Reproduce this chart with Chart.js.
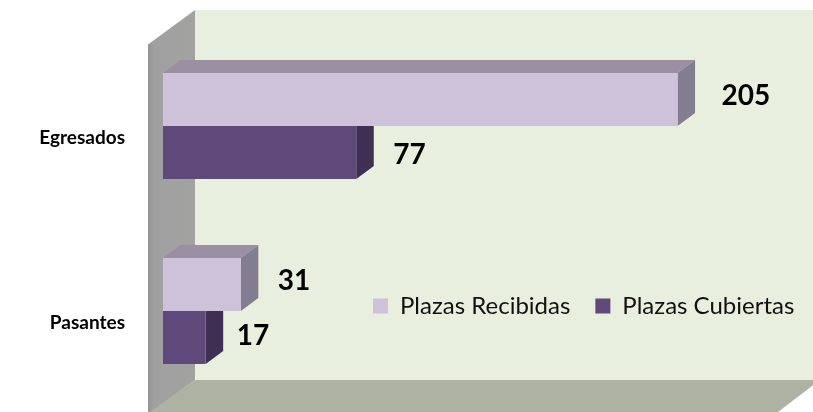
<!DOCTYPE html>
<html>
<head>
<meta charset="utf-8">
<style>html,body{margin:0;padding:0;background:#fff}canvas{display:block}</style>
<script src="https://cdn.jsdelivr.net/npm/chart.js@4/dist/chart.umd.js"></script>
</head>
<body>
<canvas id="c" width="813" height="412"></canvas>
<script>
const categories = ['Egresados', 'Pasantes'];
const plazasRecibidas = [205, 31];
const plazasCubiertas = [77, 17];

const FRONT = ['#CDC2DA', '#5F497A'];
const TOP = ['#9A8FA3', '#4A3A60'];
const SIDE = ['#837D92', '#3F2F54'];
const FONT = 'Lato, Carlito, sans-serif';

function poly(ctx, pts, fill) {
  ctx.beginPath();
  pts.forEach((p, i) => i ? ctx.lineTo(p[0], p[1]) : ctx.moveTo(p[0], p[1]));
  ctx.closePath();
  ctx.fillStyle = fill;
  ctx.fill();
}

const walls = {
  id: 'walls',
  beforeDraw(chart) {
    const { ctx, chartArea: a } = chart;
    const backX = a.left + 32, backTop = a.top - 23.5, backBottom = a.bottom - 23.5;
    const sideX = a.left - 15, W = chart.width;
    poly(ctx, [[backX, backTop], [W, backTop], [W, backBottom], [backX, backBottom]], '#E9EFDE');
    const fl = ctx.createLinearGradient(sideX, 0, backX, 0);
    fl.addColorStop(0, '#949494');
    fl.addColorStop(0.12, '#A0A0A0');
    fl.addColorStop(1, '#A2A2A0');
    poly(ctx, [[sideX, backTop + 34.5], [backX, backTop], [backX, backBottom], [sideX, backBottom + 34.5]], fl);
    poly(ctx, [[backX, backBottom], [W + 7, backBottom], [W - 35, backBottom + 32], [sideX + 2, backBottom + 32]], '#AEB2A3');
  },
  beforeDatasetsDraw(chart) {
    const { ctx } = chart;
    // depth faces of the bars, behind the fronts
    [1, 0].forEach(ds => {
      chart.getDatasetMeta(ds).data.forEach(bar => {
        const p = bar.getProps(['x', 'y', 'base', 'height'], true);
        const t = p.y - p.height / 2, b = p.y + p.height / 2, dx = 17.5, dy = 13;
        poly(ctx, [[p.base, t], [p.base + dx, t - dy], [p.x + dx, t - dy], [p.x, t]], TOP[ds]);
        poly(ctx, [[p.x, t], [p.x + dx, t - dy], [p.x + dx, b - dy], [p.x, b]], SIDE[ds]);
      });
    });
  }
};

const valueLabels = {
  id: 'valueLabels',
  afterDatasetsDraw(chart) {
    const { ctx } = chart;
    const nudges = [[[44, -3.5], [37, -3.5]], [[37, 2.5], [31, -1.5]]];
    ctx.save();
    ctx.font = 'bold 28px ' + FONT;
    ctx.fillStyle = '#000';
    ctx.textAlign = 'left';
    ctx.textBaseline = 'middle';
    [0, 1].forEach(ds => {
      chart.getDatasetMeta(ds).data.forEach((bar, i) => {
        const v = chart.data.datasets[ds].data[i];
        const n = nudges[ds][i];
        ctx.fillText(String(v), bar.x + n[0], bar.y + n[1]);
      });
    });
    ctx.restore();
  }
};

const legendPlacer = {
  id: 'legendPlacer',
  beforeLayout(chart) {
    const l = chart.legend;
    if (!l._wrapped) {
      const fit = l.fit;
      l.fit = function () { fit.call(this); this.height = 0; };
      l._wrapped = true;
    }
  },
  afterLayout(chart) {
    const l = chart.legend;
    l.left = 348; l.right = 900;
    l.top = 269; l.bottom = 320;
  }
};

new Chart(document.getElementById('c'), {
  type: 'bar',
  data: {
    labels: categories,
    datasets: [
      { label: 'Plazas Recibidas', data: plazasRecibidas, backgroundColor: FRONT[0] },
      { label: 'Plazas Cubiertas', data: plazasCubiertas, backgroundColor: FRONT[1] }
    ]
  },
  options: {
    indexAxis: 'y',
    responsive: false,
    animation: false,
    layout: { autoPadding: false, padding: { top: 33.5, bottom: 8.5, right: 22.5, left: 0 } },
    datasets: { bar: { categoryPercentage: 0.573, barPercentage: 1 } },
    scales: {
      x: { display: false, min: 0, max: 250 },
      y: {
        afterFit(s) { s.width = 163; s.paddingTop = 0; s.paddingBottom = 0; },
        grid: { display: false, drawTicks: false },
        border: { display: false },
        ticks: {
          padding: 38,
          labelOffset: 12,
          color: '#000',
          font: { family: FONT, size: 19, weight: 'bold' }
        }
      }
    },
    plugins: {
      tooltip: { enabled: false },
      legend: {
        position: 'top',
        align: 'start',
        labels: {
          boxWidth: 15,
          boxHeight: 15,
          padding: 25,
          color: '#111',
          font: { family: FONT, size: 24 }
        }
      }
    }
  },
  plugins: [walls, valueLabels, legendPlacer]
});
</script>
</body>
</html>
